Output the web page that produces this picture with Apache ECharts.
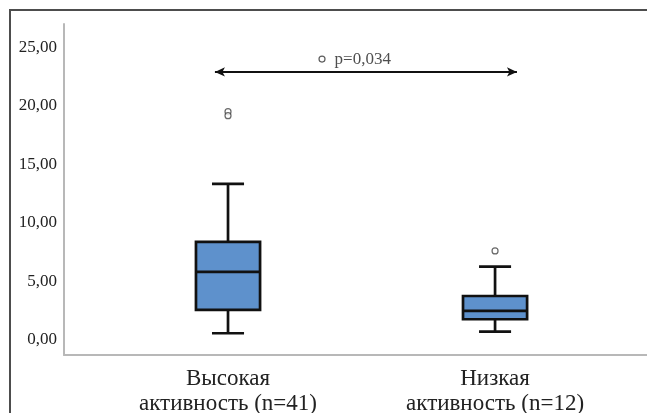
<!DOCTYPE html>
<html>
<head>
<meta charset="utf-8">
<script src="https://cdn.jsdelivr.net/npm/echarts@6/dist/echarts.min.js"></script>
<style>
html,body{margin:0;padding:0;background:#fff;}
#chart{width:647px;height:413px;}
</style>
</head>
<body>
<div id="chart"></div>
<script>
// ---- data ----
const categories = ['Высокая\nактивность (n=41)', 'Низкая\nактивность (n=12)'];
const whiskerLow  = [0.53, 0.67];
const q1          = [2.53, 1.73];
const median      = [5.78, 2.44];
const q3          = [8.35, 3.72];
const whiskerHigh = [13.31, 6.23];
const outlierGroup  = [0, 0, 1];
const outlierValues = [19.5, 19.15, 7.58];
const yTicks = [0, 5, 10, 15, 20, 25];
const pLabel = 'p=0,034';
const pMarker = [1.352, 24.0];
const arrowFrom = [0.951, 22.9];
const arrowTo   = [2.082, 22.9];

// ---- build ----
const boxData = categories.map((c, i) => [i + 1, whiskerLow[i], q1[i], median[i], q3[i], whiskerHigh[i]]);
const outlierData = outlierGroup.map((g, i) => [g + 1, outlierValues[i]]);
const serif = 'Liberation Serif';

const chart = echarts.init(document.getElementById('chart'), null, {renderer: 'canvas'});
chart.setOption({
  animation: false,
  backgroundColor: '#fff',
  grid: {left: 64, right: 0, top: 24, bottom: 58, containLabel: false, outerBoundsMode: 'none'},
  xAxis: {
    type: 'value', min: 0.3858, max: 2.569,
    axisLine: {show: true, onZero: false, lineStyle: {color: '#b8b8b8', width: 2}},
    axisTick: {show: false},
    splitLine: {show: false},
    axisLabel: {
      customValues: [1, 2],
      formatter: v => categories[Math.round(v) - 1] || '',
      fontFamily: serif, fontSize: 23, lineHeight: 25, color: '#222', margin: 11, align: 'center'
    }
  },
  yAxis: {
    type: 'value', min: -1.33, max: 27.0,
    axisLine: {show: true, onZero: false, lineStyle: {color: '#b8b8b8', width: 2}},
    axisTick: {show: false},
    splitLine: {show: false},
    axisLabel: {
      customValues: yTicks,
      formatter: v => v.toFixed(2).replace('.', ','),
      fontFamily: serif, fontSize: 17, color: '#222', margin: 7
    }
  },
  graphic: [{
    type: 'polyline', silent: true,
    shape: {points: [[10, 413], [10, 10], [647, 10]]},
    style: {stroke: '#4d4d4d', lineWidth: 2, fill: null}
  }],
  series: [
    {
      type: 'custom',
      data: boxData,
      encode: {x: 0, y: [1, 2, 3, 4, 5]},
      renderItem: function (params, api) {
        const x = api.value(0);
        const pLow = api.coord([x, api.value(1)]);
        const pQ1 = api.coord([x, api.value(2)]);
        const pMed = api.coord([x, api.value(3)]);
        const pQ3 = api.coord([x, api.value(4)]);
        const pHigh = api.coord([x, api.value(5)]);
        const bw = api.size([0.24, 0])[0];
        const cw = bw / 2;
        const cx = pMed[0];
        const ls = {stroke: '#111', lineWidth: 2.7};
        return {
          type: 'group',
          children: [
            {type: 'line', shape: {x1: cx, y1: pHigh[1], x2: cx, y2: pQ3[1]}, style: ls},
            {type: 'line', shape: {x1: cx, y1: pLow[1], x2: cx, y2: pQ1[1]}, style: ls},
            {type: 'line', shape: {x1: cx - cw / 2, y1: pHigh[1], x2: cx + cw / 2, y2: pHigh[1]}, style: ls},
            {type: 'line', shape: {x1: cx - cw / 2, y1: pLow[1], x2: cx + cw / 2, y2: pLow[1]}, style: ls},
            {type: 'rect', shape: {x: cx - bw / 2, y: pQ3[1], width: bw, height: pQ1[1] - pQ3[1]},
              style: {fill: '#5e91cc', stroke: '#111', lineWidth: 2.7}},
            {type: 'line', shape: {x1: cx - bw / 2, y1: pMed[1], x2: cx + bw / 2, y2: pMed[1]}, style: ls}
          ]
        };
      }
    },
    {
      type: 'scatter',
      data: outlierData,
      symbol: 'circle', symbolSize: 6,
      itemStyle: {color: '#fff', borderColor: '#444', borderWidth: 1.2},
      silent: true
    },
    {
      type: 'scatter',
      data: [pMarker],
      symbol: 'circle', symbolSize: 6,
      itemStyle: {color: '#fff', borderColor: '#333', borderWidth: 1.2},
      label: {show: true, position: 'right', distance: 9, formatter: pLabel,
        fontFamily: serif, fontSize: 17, color: '#222'},
      silent: true,
      markLine: {
        silent: true,
        symbol: ['arrow', 'arrow'], symbolSize: [7, 10],
        lineStyle: {color: '#111', width: 2, type: 'solid'},
        label: {show: false},
        data: [[{coord: arrowFrom}, {coord: arrowTo}]]
      }
    }
  ]
});
</script>
</body>
</html>
